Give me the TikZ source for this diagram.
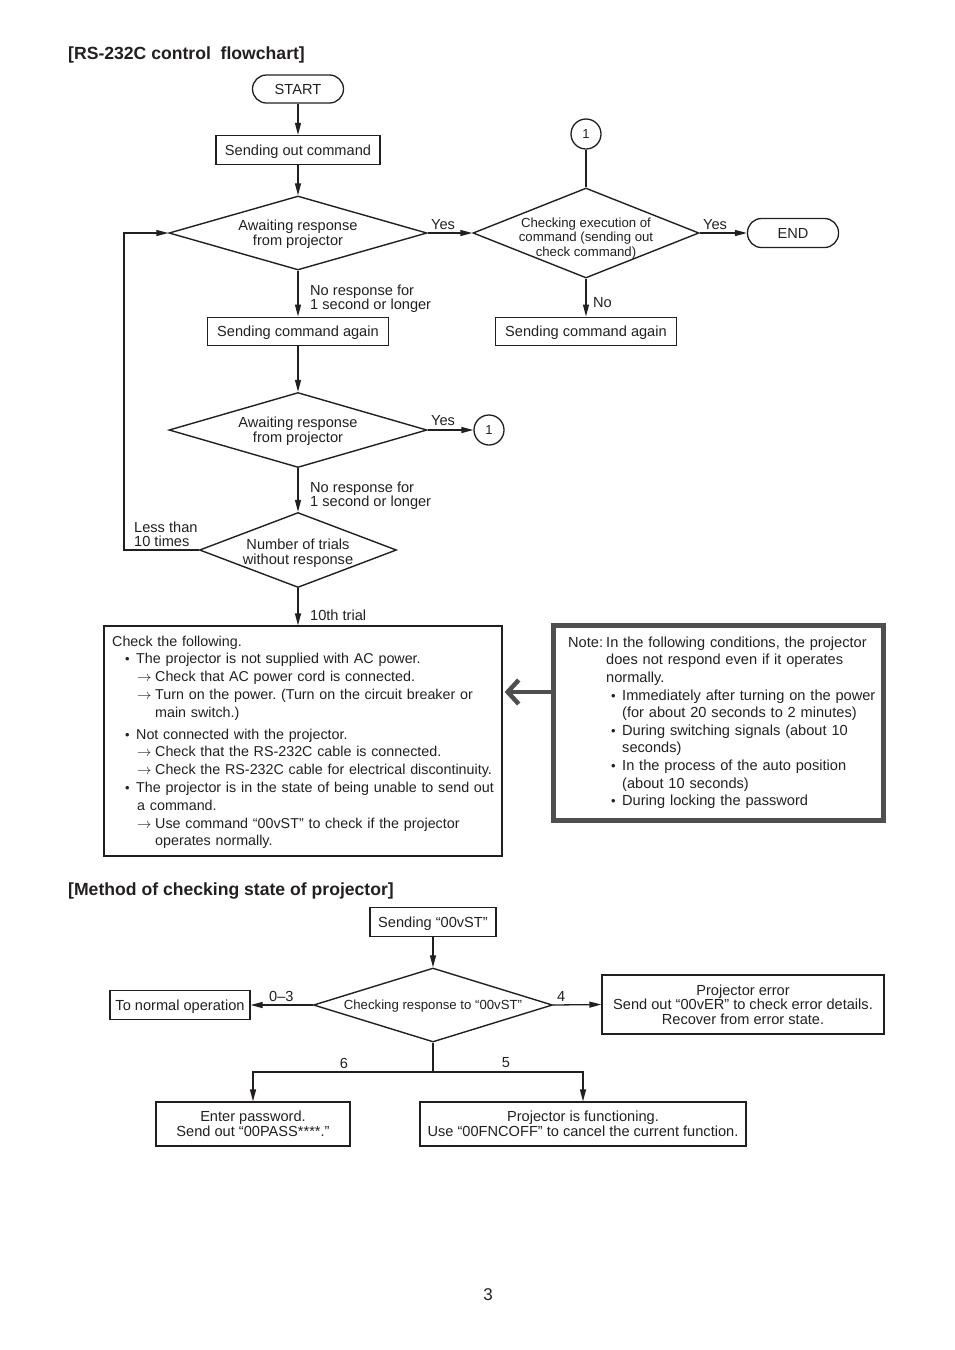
\documentclass[tikz,border=0pt]{standalone}
\usepackage{fontspec}
\setmainfont{Liberation Sans}
\usetikzlibrary{arrows.meta,shapes.geometric,calc}
\definecolor{ink}{HTML}{231F20}
\definecolor{notegray}{HTML}{4F4F4F}
\newcommand{\bul}{{\fontsize{13}{13}\selectfont •}}
\begin{document}
\frenchspacing
\begin{tikzpicture}[x=1pt,y=-1pt,
  every node/.style={text=ink},
  base/.style={font=\fontsize{14.6}{17.6}\selectfont},
  small/.style={font=\fontsize{13.2}{14.5}\selectfont},
  ttl/.style={font=\fontsize{17.6}{20}\selectfont\bfseries, inner sep=0pt, anchor=west},
  boxn/.style={draw=ink, line width=1.3pt, rectangle, inner sep=0pt, base, align=center},
  onel/.style={text height=12pt, text depth=1.5pt},
  pill/.style={boxn, onel, rounded corners=14pt},
  conncirc/.style={draw=ink, line width=1.3pt, circle, inner sep=0pt, minimum size=30pt, font=\fontsize{13}{14}\selectfont},
  dia/.style={diamond, draw=ink, line width=1.4pt, inner sep=0pt},
  diatext/.style={base, align=center, inner sep=0pt, font=\fontsize{14.6}{14.8}\selectfont},
  conn/.style={draw=ink, line width=1.3pt},
  arr/.style={conn, -{Triangle[length=12pt,width=6pt]}},
  lbl/.style={inner sep=0pt, align=left, anchor=west, font=\fontsize{14.6}{14.2}\selectfont},
  bigarr/.style={draw=notegray, line width=4.5pt, -{Straight Barb[length=11pt,width=24pt]}},
]
\useasboundingbox (0,0) rectangle (954,1350);

% titles
\node[ttl] (t1) at (68,55) {[RS-232C control\ \ flowchart]};
\node[ttl] (t2) at (68,891) {[Method of checking state of projector]};

% ---- top flowchart ----
\node[pill, minimum width=91pt, minimum height=28pt] (start) at (298,89) {START};
\node[boxn, onel, minimum width=164pt, minimum height=29pt] (s1) at (298,150) {Sending out command};
\node[dia, minimum width=258pt, minimum height=74pt] (d1) at (298,233) {};
\node[diatext] (d1t) at (298,234.5) {Awaiting response\\from projector};

\node[conncirc] (c1) at (586,134) {1};
\node[dia, minimum width=226pt, minimum height=90pt] (d2) at (586,233) {};
\node[small, align=center, inner sep=0pt] (d2t) at (586,238.5) {Checking execution of\\command (sending out\\check command)};
\node[pill, minimum width=91pt, minimum height=29pt] (end) at (793,233) {END};
\node[boxn, onel, line width=1pt, minimum width=181pt, minimum height=28pt] (r1) at (586,331) {Sending command again};

\node[boxn, onel, line width=1pt, minimum width=181pt, minimum height=28pt] (s2) at (298,331) {Sending command again};
\node[dia, minimum width=258pt, minimum height=75pt] (d3) at (298,430) {};
\node[diatext] (d3t) at (298,431) {Awaiting response\\from projector};
\node[conncirc] (c2) at (489,430) {1};

\node[dia, minimum width=197pt, minimum height=75pt] (d4) at (298,550) {};
\node[diatext] (d4t) at (298,553) {Number of trials\\without response};

\node[boxn, minimum width=398pt, minimum height=230pt] (chk) at (303,741) {};
\node[inner sep=0pt, anchor=north west, text width=400pt, align=left, font=\fontsize{14.3}{17.8}\selectfont] (chkt) at (112,635.5) {%
Check the following.\\
\hspace*{13pt}\makebox[11pt][l]{\bul}The projector is not supplied with AC power.\\
\hspace*{25pt}\makebox[18pt][l]{$\rightarrow$}Check that AC power cord is connected.\\
\hspace*{25pt}\makebox[18pt][l]{$\rightarrow$}Turn on the power. (Turn on the circuit breaker or\\
\hspace*{43pt}main switch.)\\[4pt]
\hspace*{13pt}\makebox[11pt][l]{\bul}Not connected with the projector.\\
\hspace*{25pt}\makebox[18pt][l]{$\rightarrow$}Check that the RS-232C cable is connected.\\
\hspace*{25pt}\makebox[18pt][l]{$\rightarrow$}Check the RS-232C cable for electrical discontinuity.\\
\hspace*{13pt}\makebox[11pt][l]{\bul}The projector is in the state of being unable to send out\\
\hspace*{25pt}a command.\\
\hspace*{25pt}\makebox[18pt][l]{$\rightarrow$}Use command “00vST” to check if the projector\\
\hspace*{43pt}operates normally.};

\node[draw=notegray, line width=5pt, rectangle, inner sep=0pt, outer sep=0pt, minimum width=330pt, minimum height=195pt] (note) at (718.5,723) {};
\node[base, inner sep=0pt, anchor=north west, text width=320pt, align=left] (notet) at (568,636.5) {%
\makebox[38pt][l]{Note:}In the following conditions, the projector\\
\hspace*{38pt}does not respond even if it operates\\
\hspace*{38pt}normally.\\
\hspace*{43pt}\makebox[11pt][l]{\bul}Immediately after turning on the power\\
\hspace*{54pt}(for about 20 seconds to 2 minutes)\\
\hspace*{43pt}\makebox[11pt][l]{\bul}During switching signals (about 10\\
\hspace*{54pt}seconds)\\
\hspace*{43pt}\makebox[11pt][l]{\bul}In the process of the auto position\\
\hspace*{54pt}(about 10 seconds)\\
\hspace*{43pt}\makebox[11pt][l]{\bul}During locking the password};

% connectors top
\draw[arr] (start) -- (s1);
\draw[arr] (s1) -- (d1);
\draw[arr] (d1.east) -- (d2.west);
\node[lbl] (y1) at (431,224.5) {Yes};
\draw[conn] (c1) -- (d2.north);
\draw[arr] (d2.east) -- (end.west);
\node[lbl] (y2) at (703,224.5) {Yes};
\draw[arr] (d2.south) -- (r1.north);
\node[lbl] (no1) at (593,302.5) {No};
\draw[arr] (d1.south) -- (s2.north);
\node[lbl] (nr1) at (310,298.5) {No response for\\1 second or longer};
\draw[arr] (s2.south) -- (d3.north);
\draw[arr] (d3.east) -- (c2.west);
\node[lbl] (y3) at (431,420.5) {Yes};
\draw[arr] (d3.south) -- (d4.north);
\node[lbl] (nr2) at (310,495.5) {No response for\\1 second or longer};
\coordinate (lp) at (124,550);
\draw[arr] (d4.west) -- (lp) |- (d1.west);
\node[lbl] (lt) at (134,534.5) {Less than\\10 times};
\draw[arr] (d4.south) -- (d4.south |- chk.north);
\node[lbl] (tt) at (310,615.5) {10th trial};
\coordinate (ay) at (0,692);
\draw[bigarr] (note.west |- ay) -- ($(chk.east |- ay)+(2,0)$);

% ---- bottom flowchart ----
\node[boxn, onel, minimum width=126pt, minimum height=29pt] (sv) at (433,922) {Sending “00vST”};
\node[dia, minimum width=239pt, minimum height=74pt] (d5) at (433,1005) {};
\node[small, inner sep=0pt] (d5t) at (433,1006) {Checking response to “00vST”};
\node[boxn, onel, minimum width=140pt, minimum height=29pt] (norm) at (180,1005) {To normal operation};
\node[boxn, minimum width=282pt, minimum height=59pt, font=\fontsize{14.6}{14.6}\selectfont] (err) at (743,1004.5) {Projector error\\Send out “00vER” to check error details.\\Recover from error state.};
\node[boxn, minimum width=194pt, minimum height=44pt, font=\fontsize{14.6}{15}\selectfont] (pw) at (253,1124) {Enter password.\\Send out “00PASS****.”};
\node[boxn, minimum width=326pt, minimum height=44pt, font=\fontsize{14.6}{15}\selectfont] (fn) at (583,1124) {Projector is functioning.\\Use “00FNCOFF” to cancel the current function.};

\draw[arr] (sv) -- (d5);
\draw[arr] (d5.west) -- (norm.east);
\node[lbl] (l03) at (269,996) {0–3};
\draw[arr] (d5.east) -- (err.west);
\node[lbl] (l4) at (557,996) {4};
\coordinate (j) at (433,1072);
\draw[conn] (d5.south) -- (j);
\draw[arr] (j) -| (pw.north);
\draw[arr] (j) -| (fn.north);
\node[base, inner sep=0pt] (l6) at (344,1063) {6};
\node[base, inner sep=0pt] (l5) at (506,1063) {5};

\node[inner sep=0pt, font=\fontsize{17}{20}\selectfont] (pg) at (488,1295) {3};
\end{tikzpicture}
\end{document}
